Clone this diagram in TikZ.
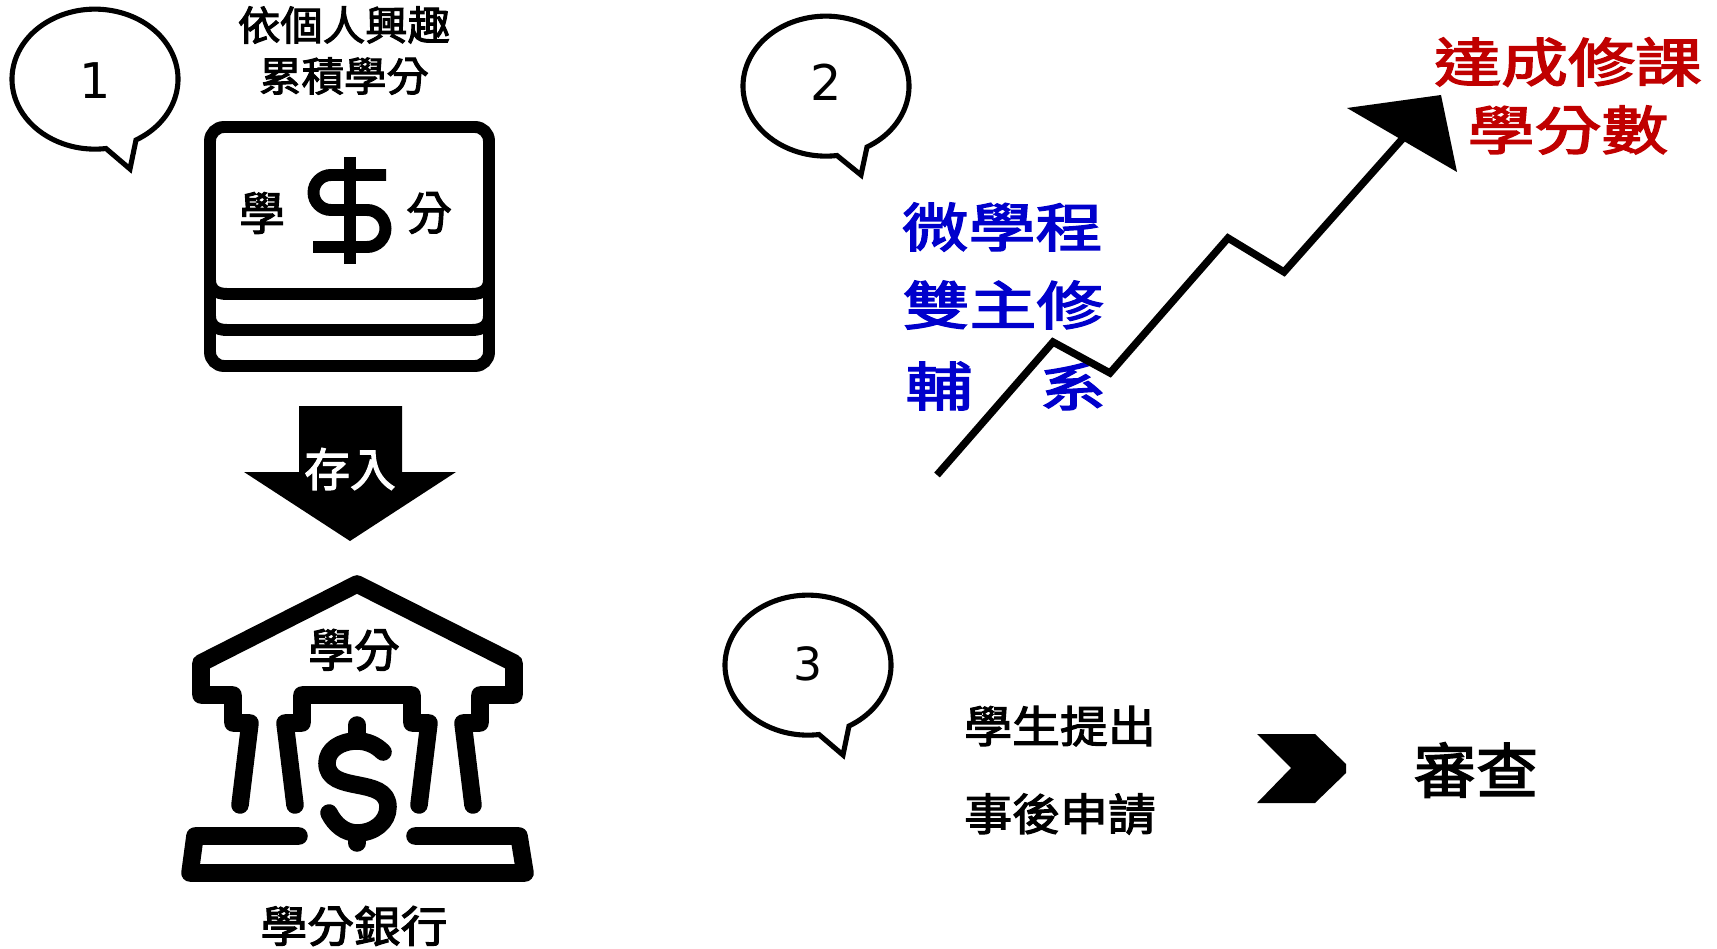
\documentclass[tikz,border=0pt]{standalone}
\usepackage{fontspec}
\newfontfamily\cjk[FakeBold=2.5]{Noto Sans CJK TC}
\newfontfamily\digitfont{DejaVu Sans}
\usetikzlibrary{positioning}
\definecolor{planblue}{RGB}{0,0,204}
\definecolor{goalred}{RGB}{192,0,0}
\tikzset{
    bubble/.style={draw=black,line width=2.9pt,fill=white},
    bubblenum/.style={font=\digitfont\fontsize{28}{28}\selectfont},
    noteline/.style={draw=black,line width=6.8pt},
    bankline/.style={draw=black,line width=10pt,line cap=round,line join=round},
    toptext/.style={font=\cjk\fontsize{23}{23}\selectfont,xscale=1.05},
    smalltext/.style={font=\cjk\fontsize{26}{26}\selectfont},
    plantext/.style={font=\cjk\fontsize{30}{30}\selectfont,xscale=1.27,text=planblue},
    goaltext/.style={font=\cjk\fontsize{30}{30}\selectfont,xscale=1.27,text=goalred},
    steptext/.style={font=\cjk\fontsize{25}{25}\selectfont,xscale=1.09},
    checktext/.style={font=\cjk\fontsize{34}{34}\selectfont,xscale=1.04},
}
\begin{document}
\begin{tikzpicture}[x=0.02cm,y=0.02cm]
    \tikzstyle{every node}+=[inner sep=0pt]
    \useasboundingbox (0,0) rectangle (1717,-949);
    \fill [white] (0,0) rectangle (1717,-949);
    \draw [bubble] (136,-140) arc [start angle=-60.4,end angle=277.6,x radius=83,y radius=70] -- (130,-169) -- cycle;
    \node [bubblenum] (numone) at (95,-81) {1};
    \draw [bubble] (867,-147) arc [start angle=-60.4,end angle=277.6,x radius=83,y radius=70] -- (861,-175) -- cycle;
    \node [bubblenum] (numtwo) at (826,-82) {2};
    \draw [bubble] (849,-726) arc [start angle=-60.4,end angle=277.6,x radius=83,y radius=70] -- (843,-755) -- cycle;
    \node [bubblenum,font=\digitfont\fontsize{26}{26}\selectfont] (numthree) at (808,-664) {3};
    \node [toptext] (interest) at (344,-25) {依個人興趣};
    \node [toptext] (collect) at (344,-76) {累積學分};
    \draw [noteline,rounded corners=8pt] (210,-127) rectangle (489,-366);
    \draw [noteline] (210,-280) .. controls (210,-289) and (216,-294) .. (227,-294) -- (472,-294) .. controls (483,-294) and (489,-289) .. (489,-280);
    \draw [noteline] (210,-316) .. controls (210,-325) and (216,-330) .. (227,-330) -- (472,-330) .. controls (483,-330) and (489,-325) .. (489,-316);
    \draw [noteline] (350,-157) -- (350,-264);
    \draw [noteline] (386,-175) -- (331,-175) arc (90:270:17.5) -- (367,-210) arc (90:-90:18.5) -- (313,-247);
    \node [smalltext] (noteleft) at (262,-213) {學};
    \node [smalltext] (noteright) at (429,-213) {分};
    \fill [black] (299,-406) -- (402,-406) -- (402,-472) -- (456,-472) -- (350,-541) -- (244,-472) -- (299,-472) -- cycle;
    \node [font=\cjk\fontsize{26}{26}\selectfont,text=white] (deposit) at (350,-469) {存入};
    \draw [bankline] (240,-805) -- (250,-723) -- (233,-723) -- (233,-695) -- (201,-695) -- (201,-663) -- (357,-584) -- (514,-663) -- (514,-695) -- (480,-695) -- (480,-723) -- (463,-723) -- (473,-805);
    \draw [bankline] (295,-805) -- (285,-723) -- (302,-723) -- (302,-695) -- (412,-695) -- (412,-723) -- (429,-723) -- (419,-805);
    \draw [bankline] (299,-836) -- (195,-836) -- (190,-873) -- (525,-873) -- (519,-836) -- (415,-836);
    \draw [bankline] (357,-725) -- (357,-737);
    \draw [bankline] (357,-833) -- (357,-843);
    \draw [bankline] (383,-752) .. controls (376,-745) and (367,-741) .. (357,-741) .. controls (340,-741) and (327,-750) .. (327,-763) .. controls (327,-795) and (388,-775) .. (388,-807) .. controls (388,-822) and (374,-833) .. (357,-833) .. controls (345,-833) and (335,-825) .. (329,-813);
    \node [smalltext] (bankroof) at (354,-650) {學分};
    \node [toptext,xscale=1.03,font=\cjk\fontsize{24.6}{24.6}\selectfont] (bankname) at (354,-926) {學分銀行};
    \node [plantext] (micro) at (1002,-227) {微學程};
    \node [plantext] (double) at (1003,-305) {雙主修};
    \node [plantext] (minor) at (1006,-386) {輔　系};
    \node [goaltext] (reach) at (1568,-62) {達成修課};
    \node [goaltext] (credits) at (1568,-130) {學分數};
    \draw [black,line width=4.2pt] (937,-475) -- (1053,-342) -- (1110,-373) -- (1228,-238) -- (1284,-272) -- (1404,-137);
    \fill [black] (1347,-108) -- (1441,-95) -- (1457,-172) -- cycle;
    \node [steptext] (apply) at (1060,-726) {學生提出};
    \node [steptext] (after) at (1060,-814) {事後申請};
    \fill [black] (1257,-734) -- (1315,-734) -- (1346,-764) -- (1346,-773) -- (1315,-803) -- (1257,-803) -- (1291,-768) -- cycle;
    \node [checktext] (review) at (1476,-770) {審查};
\end{tikzpicture}
\end{document}
